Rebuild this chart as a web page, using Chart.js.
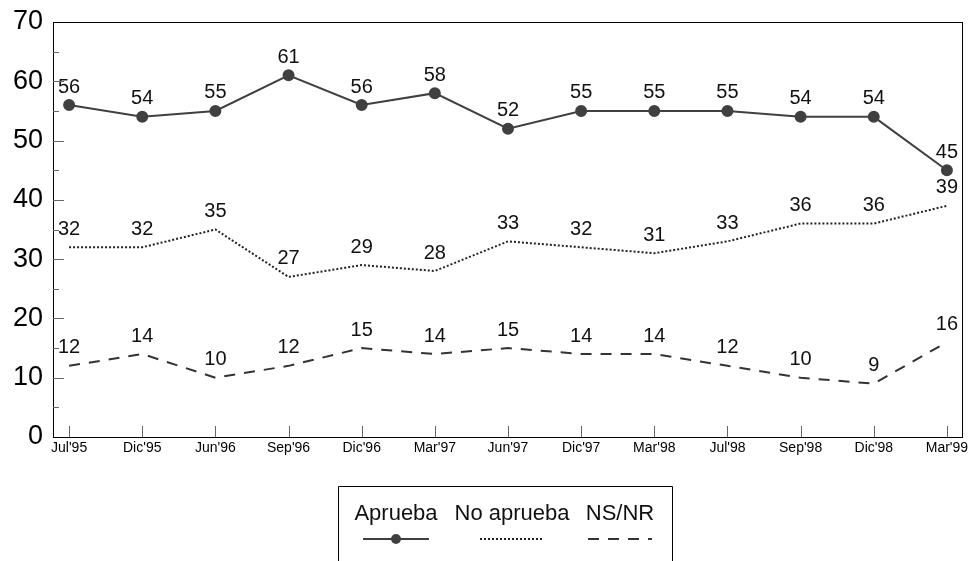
<!DOCTYPE html>
<html>
<head>
<meta charset="utf-8">
<script src="https://cdn.jsdelivr.net/npm/chart.js@4/dist/chart.umd.min.js"></script>
<style>
html,body{margin:0;padding:0;background:#fff;}
#wrap{width:972px;height:561px;position:relative;}
</style>
</head>
<body>
<div id="wrap"><canvas id="c" width="972" height="561"></canvas></div>
<script>
const categories = ["Jul'95","Dic'95","Jun'96","Sep'96","Dic'96","Mar'97","Jun'97","Dic'97","Mar'98","Jul'98","Sep'98","Dic'98","Mar'99"];
const aprueba = [56,54,55,61,56,58,52,55,55,55,54,54,45];
const noAprueba = [32,32,35,27,29,28,33,32,31,33,36,36,39];
const nsnr = [12,14,10,12,15,14,15,14,14,12,10,9,16];
const yTicks = [0,10,20,30,40,50,60,70];
const seriesNames = ["Aprueba","No aprueba","NS/NR"];

const FONT = "'Liberation Sans', Arial, sans-serif";
const LINE = '#404040';

function pts(arr){ return arr.map((v,i)=>({x:i,y:v})); }

const inwardTicks = {
  id:'inwardTicks',
  afterDraw(chart){
    const ctx = chart.ctx, a = chart.chartArea;
    const xs = chart.scales.x, ys = chart.scales.y;
    ctx.save();
    ctx.strokeStyle = '#000';
    ctx.lineWidth = 1;
    ctx.strokeRect(a.left+0.5, a.top+0.5, a.right-a.left-1, a.bottom-a.top);
    ctx.strokeStyle = '#666';
    for (let v = 5; v < 70; v += 5){
      const y = Math.round(ys.getPixelForValue(v))+0.5;
      const len = (v % 10 === 0) ? 11 : 6;
      ctx.beginPath(); ctx.moveTo(a.left, y); ctx.lineTo(a.left+len, y); ctx.stroke();
    }
    categories.forEach((c,i)=>{
      const x = Math.round(xs.getPixelForValue(i))+0.5;
      ctx.beginPath(); ctx.moveTo(x, a.bottom); ctx.lineTo(x, a.bottom-11); ctx.stroke();
    });
    ctx.restore();
  }
};

const valueLabels = {
  id:'valueLabels',
  afterDatasetsDraw(chart){
    const ctx = chart.ctx;
    ctx.save();
    ctx.font = '20px ' + FONT;
    ctx.fillStyle = '#111';
    ctx.textAlign = 'center';
    ctx.textBaseline = 'middle';
    chart.data.datasets.forEach((ds,di)=>{
      const meta = chart.getDatasetMeta(di);
      meta.data.forEach((p,i)=>{
        ctx.fillText(String(ds.data[i].y), p.x, p.y - 18);
      });
    });
    ctx.restore();
  }
};

const boxLegend = {
  id:'boxLegend',
  afterDraw(chart){
    const ctx = chart.ctx;
    const L = 338, R = 672, T = 486, B = 561;
    ctx.save();
    ctx.strokeStyle = '#000';
    ctx.lineWidth = 1;
    ctx.beginPath();
    ctx.moveTo(L+0.5, B); ctx.lineTo(L+0.5, T+0.5); ctx.lineTo(R+0.5, T+0.5); ctx.lineTo(R+0.5, B);
    ctx.stroke();
    ctx.font = '22px ' + FONT;
    ctx.fillStyle = '#111';
    ctx.textAlign = 'center';
    ctx.textBaseline = 'middle';
    const centers = [396, 512, 620];
    const sampleHalf = [33, 32, 32];
    chart.data.datasets.forEach((ds,i)=>{
      ctx.fillText(seriesNames[i], centers[i], 514);
      ctx.strokeStyle = ds.borderColor;
      ctx.lineWidth = ds.borderWidth;
      ctx.setLineDash(ds.borderDash || []);
      ctx.beginPath();
      ctx.moveTo(centers[i]-sampleHalf[i], 539);
      ctx.lineTo(centers[i]+sampleHalf[i], 539);
      ctx.stroke();
      ctx.setLineDash([]);
      if (ds.pointRadius > 0){
        ctx.fillStyle = ds.pointBackgroundColor;
        ctx.beginPath(); ctx.arc(centers[i], 539, ds.pointRadius, 0, Math.PI*2); ctx.fill();
        ctx.fillStyle = '#111';
      }
    });
    ctx.restore();
  }
};

new Chart(document.getElementById('c'), {
  type:'line',
  data:{
    datasets:[
      {label:seriesNames[0], data:pts(aprueba), borderColor:LINE, borderWidth:2, pointRadius:5, pointBackgroundColor:LINE, pointBorderColor:LINE, pointHoverRadius:5},
      {label:seriesNames[1], data:pts(noAprueba), borderColor:'#222', borderWidth:2, borderDash:[2,2], pointRadius:0},
      {label:seriesNames[2], data:pts(nsnr), borderColor:'#333', borderWidth:2, borderDash:[11,9], pointRadius:0}
    ]
  },
  options:{
    responsive:false,
    animation:false,
    events:[],
    layout:{padding:{top:22, right:9, left:0, bottom:0}},
    plugins:{legend:{display:false}, tooltip:{enabled:false}},
    scales:{
      x:{
        type:'linear', min:-0.22, max:12.22,
        afterBuildTicks(s){ s.ticks = categories.map((c,i)=>({value:i})); },
        afterFit(s){ s.height = 124; },
        grid:{display:false, drawTicks:false},
        border:{display:false},
        ticks:{
          autoSkip:false, maxRotation:0, padding:3,
          font:{family:FONT, size:14}, color:'#000',
          callback:(v)=>categories[v]
        }
      },
      y:{
        min:0, max:70,
        afterBuildTicks(s){ s.ticks = yTicks.map(v=>({value:v})); },
        afterFit(s){ s.width = 53; },
        grid:{display:false, drawTicks:false},
        border:{display:false},
        ticks:{font:{family:FONT, size:27, lineHeight:0.8}, color:'#000', padding:10}
      }
    }
  },
  plugins:[inwardTicks, valueLabels, boxLegend]
});
</script>
</body>
</html>
